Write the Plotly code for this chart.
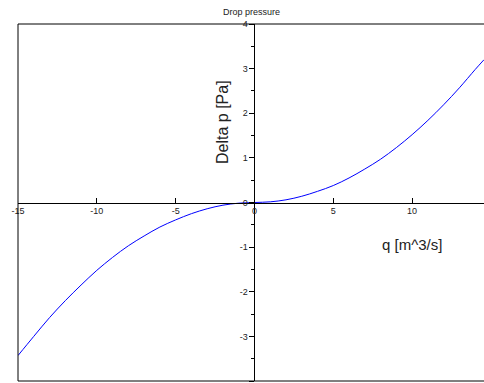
import plotly.graph_objects as go

q = [-15, -14, -13, -12, -11, -10, -9, -8, -7, -6, -5, -4, -3, -2, -1, 0,
     1, 2, 3, 4, 5, 6, 7, 8, 9, 10, 11, 12, 13, 14, 14.56]
dp = [-3.43, -3.0, -2.58, -2.2, -1.85, -1.52, -1.23, -0.97, -0.75, -0.55, -0.39,
      -0.25, -0.14, -0.06, -0.015, 0.0,
      0.015, 0.06, 0.14, 0.25, 0.38, 0.55, 0.75, 0.97, 1.23, 1.52, 1.84, 2.19,
      2.57, 2.98, 3.2]

x_ticks = [-15, -10, -5, 0, 5, 10]
y_ticks = [-4, -3, -2, -1, 0, 1, 2, 3, 4]
x_range = [-15, 14.56]
y_range = [-4, 4]

W, H = 484, 383
L, T, B, R = 18, 24, 2, 0
pw, ph = W - L - R, H - T - B

fig = go.Figure()
fig.add_trace(go.Scatter(x=q, y=dp, mode="lines", line=dict(color="#0000ff", width=1, shape="spline"),
                         showlegend=False, hoverinfo="skip"))

font = dict(family="Liberation Sans, Arial, sans-serif", color="#222222")
xpos0 = (0 - x_range[0]) / (x_range[1] - x_range[0])

def px(xp):
    return (xp - L) / pw

def py(yp):
    return (H - B - yp) / ph

fig.update_layout(
    width=W, height=H,
    margin=dict(l=L, r=R, t=T, b=B),
    paper_bgcolor="white", plot_bgcolor="white",
    xaxis=dict(range=x_range, tickvals=x_ticks, ticktext=[str(v) for v in x_ticks],
               showgrid=False, zeroline=False, showline=True, linecolor="black", linewidth=1,
               anchor="free", position=0.5, ticks="inside", ticklen=5, tickcolor="black",
               tickfont=dict(size=9, **font)),
    yaxis=dict(range=y_range, tickvals=y_ticks, ticktext=[str(v) for v in y_ticks],
               showgrid=False, zeroline=False, showline=True, linecolor="black", linewidth=1,
               anchor="free", position=xpos0, ticks="outside", ticklen=5, tickcolor="black",
               minor=dict(dtick=0.5, ticks="outside", ticklen=3, tickcolor="black"),
               tickfont=dict(size=9, **font)),
    shapes=[
        dict(type="line", xref="paper", yref="paper", x0=0, x1=1, y0=1, y1=1, line=dict(color="black", width=1)),
        dict(type="line", xref="paper", yref="paper", x0=0, x1=1, y0=0, y1=0, line=dict(color="black", width=1)),
        dict(type="line", xref="paper", yref="paper", x0=0, x1=0, y0=0, y1=1, line=dict(color="black", width=1)),
    ],
    annotations=[
        dict(text="Drop pressure", xref="paper", yref="paper", x=px(251), y=py(12),
             showarrow=False, font=dict(size=9, **font), xanchor="center", yanchor="middle"),
        dict(text="Delta p [Pa]", xref="paper", yref="paper", x=px(222), y=py(122),
             showarrow=False, textangle=-90, font=dict(size=16, **font), xanchor="center", yanchor="middle"),
        dict(text="q [m^3/s]", xref="paper", yref="paper", x=px(412), y=py(244),
             showarrow=False, font=dict(size=15, **font), xanchor="center", yanchor="middle"),
    ],
)

fig.write_html("out.html", config={"displayModeBar": False},
               post_script="document.body.style.margin='0';document.body.style.overflow='hidden';")
